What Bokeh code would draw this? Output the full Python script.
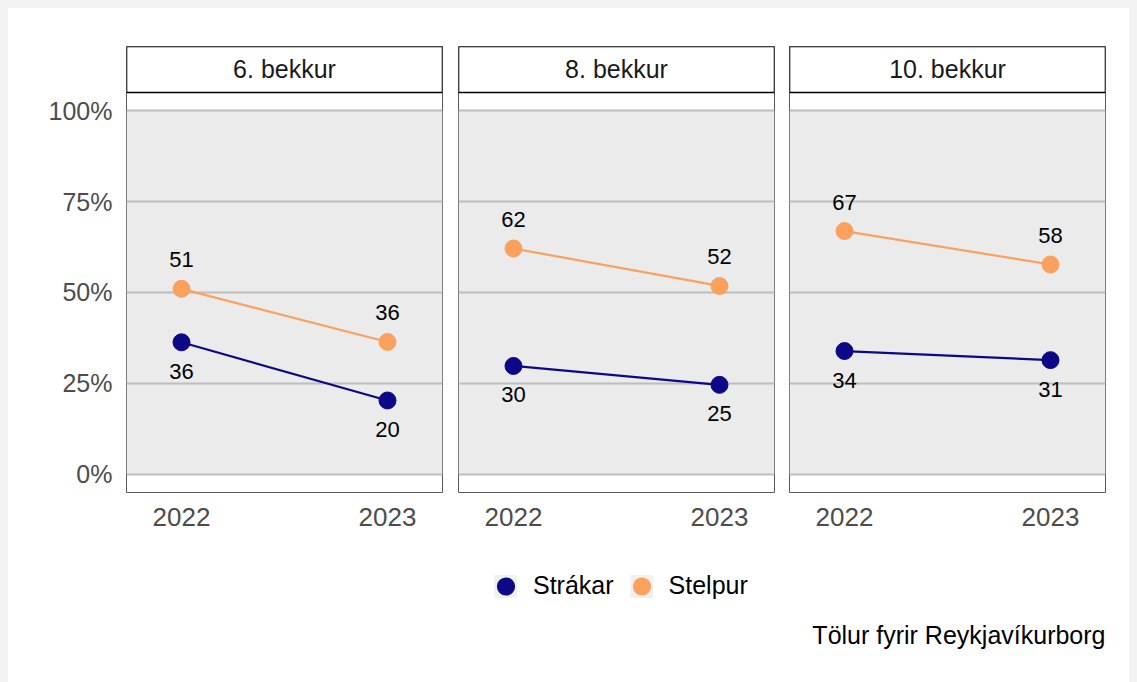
from bokeh.plotting import figure
from bokeh.layouts import row, column
from bokeh.models import (Range1d, FixedTicker, NumeralTickFormatter, BoxAnnotation,
                          Label, Legend, LegendItem, ColumnDataSource)
from bokeh.core.properties import value
from bokeh.embed import file_html
from bokeh.resources import INLINE

# ---------------- data ----------------
grades = ["6. bekkur", "8. bekkur", "10. bekkur"]
years = [2022, 2023]
strakar = [[36.3, 20.3], [29.8, 24.6], [33.9, 31.4]]
stelpur = [[51.0, 36.4], [62.1, 51.8], [66.9, 57.7]]
series_names = ["Strákar", "Stelpur"]
colors = ["#0d0887", "#fca05d"]
y_ticks = [0, 0.25, 0.5, 0.75, 1.0]
caption = "Tölur fyrir Reykjavíkurborg"

FONT = "Liberation Sans"
PANEL_BG = "#ebebeb"
GRID = "#bebebe"
WIDTH_FRAME = 316
HEIGHT = 537
TOP = 38
BOTTOM = 53
borders = [(118, 8), (8, 7), (8, 32)]
Y_TOP = 1.05 + 46 / 363.7  # space for the facet strip

figs = []
for i, grade in enumerate(grades):
    left, right = borders[i]
    p = figure(width=left + WIDTH_FRAME + right, height=HEIGHT,
               x_range=Range1d(2021.733, 2023.267), y_range=Range1d(-0.05, Y_TOP),
               toolbar_location=None, output_backend="svg",
               min_border_left=left, min_border_right=right,
               min_border_top=TOP, min_border_bottom=BOTTOM,
               y_axis_location="left" if i == 0 else None,
               background_fill_color="white", border_fill_color="white",
               outline_line_color="#595959", outline_line_width=1)
    p.title.visible = False

    # panel background (0..100%)
    p.add_layout(BoxAnnotation(bottom=0, top=1, fill_color=PANEL_BG, fill_alpha=1,
                               line_color=None, level="image"))

    # grid
    p.xgrid.visible = False
    p.ygrid.ticker = FixedTicker(ticks=y_ticks)
    p.ygrid.grid_line_color = GRID
    p.ygrid.grid_line_width = 2

    # x axis
    p.xaxis.ticker = FixedTicker(ticks=years)
    p.xaxis.major_label_overrides = {y: str(y) for y in years}
    p.xaxis.axis_line_color = None
    p.xaxis.major_tick_line_color = None
    p.xaxis.minor_tick_line_color = None
    p.xaxis.major_tick_out = 0
    p.xaxis.major_label_standoff = 15
    p.xaxis.major_label_text_font = FONT
    p.xaxis.major_label_text_font_size = "26px"
    p.xaxis.major_label_text_color = "#4d4d4d"

    if i == 0:
        p.yaxis.ticker = FixedTicker(ticks=y_ticks)
        p.yaxis.formatter = NumeralTickFormatter(format="0%")
        p.yaxis.axis_line_color = None
        p.yaxis.major_tick_line_color = None
        p.yaxis.minor_tick_line_color = None
        p.yaxis.major_tick_out = 0
        p.yaxis.major_label_standoff = 14
        p.yaxis.major_label_text_font = FONT
        p.yaxis.major_label_text_font_size = "25px"
        p.yaxis.major_label_text_color = "#4d4d4d"

    for vals, color, name in zip([strakar[i], stelpur[i]], colors, series_names):
        src = ColumnDataSource(dict(x=years, y=[v / 100 for v in vals],
                                    lab=[str(round(v)) for v in vals]))
        p.line("x", "y", source=src, line_color=color, line_width=2.2)
        p.scatter("x", "y", source=src, size=17, fill_color=color, line_color=color)
        off = 29 if name == "Strákar" else -29
        p.text("x", "y", text="lab", source=src, y_offset=off,
               text_align="center", text_baseline="middle",
               text_font=value(FONT), text_font_size="22px", text_color="black")

    # facet strip
    p.add_layout(BoxAnnotation(bottom=1.05, fill_color="white", fill_alpha=1,
                               line_color="black", line_alpha=1, line_width=1.6))
    p.add_layout(Label(x=2022.5, y=1.05, y_offset=23, text=grade,
                       text_align="center", text_baseline="middle",
                       text_font=FONT, text_font_size="25px", text_color="#1a1a1a"))
    figs.append(p)

# legend + caption strip
lf = figure(width=1129, height=145, x_range=Range1d(0, 1), y_range=Range1d(0, 1),
            toolbar_location=None, output_backend="svg", min_border=0,
            x_axis_location=None, y_axis_location=None,
            outline_line_color=None, background_fill_color="white",
            border_fill_color="white")
lf.title.visible = False
lf.grid.visible = False
items = []
for name, c in zip(series_names, colors):
    # legend proxies placed outside the visible range
    key = lf.scatter(x=[-5], y=[-5], marker="square", fill_color="#f0f0f0",
                     line_color="#f0f0f0", line_width=14, line_join="miter")
    dot = lf.scatter(x=[-5], y=[-5], marker="circle", fill_color=c, line_color=c,
                     line_width=9)
    items.append(LegendItem(label=name, renderers=[key, dot]))
leg = Legend(items=items, orientation="horizontal", location=(486, 90),
             glyph_width=23, glyph_height=24, label_standoff=16, spacing=16,
             padding=0, margin=0, border_line_color=None, background_fill_alpha=0,
             label_text_font=FONT, label_text_font_size="25px", label_text_color="black",
             label_text_baseline="middle")
lf.add_layout(leg)
lf.add_layout(Label(x=1097, y=56, x_units="screen", y_units="screen", text=caption,
                    text_align="right", text_baseline="middle", text_font=FONT,
                    text_font_size="25px", text_color="black"))

layout = column(row(*figs), lf)
html = file_html(layout, INLINE)
style = ("<style>html { margin: 0; padding: 0; height: auto; overflow: hidden; "
         "background-color: #f3f3f3; } "
         "body { margin: 8px !important; padding: 0; height: auto; overflow: hidden; "
         "background-color: white; }</style>")
html = html.replace("</head>", style + "\n</head>", 1)
open("out.html", "w").write(html)
